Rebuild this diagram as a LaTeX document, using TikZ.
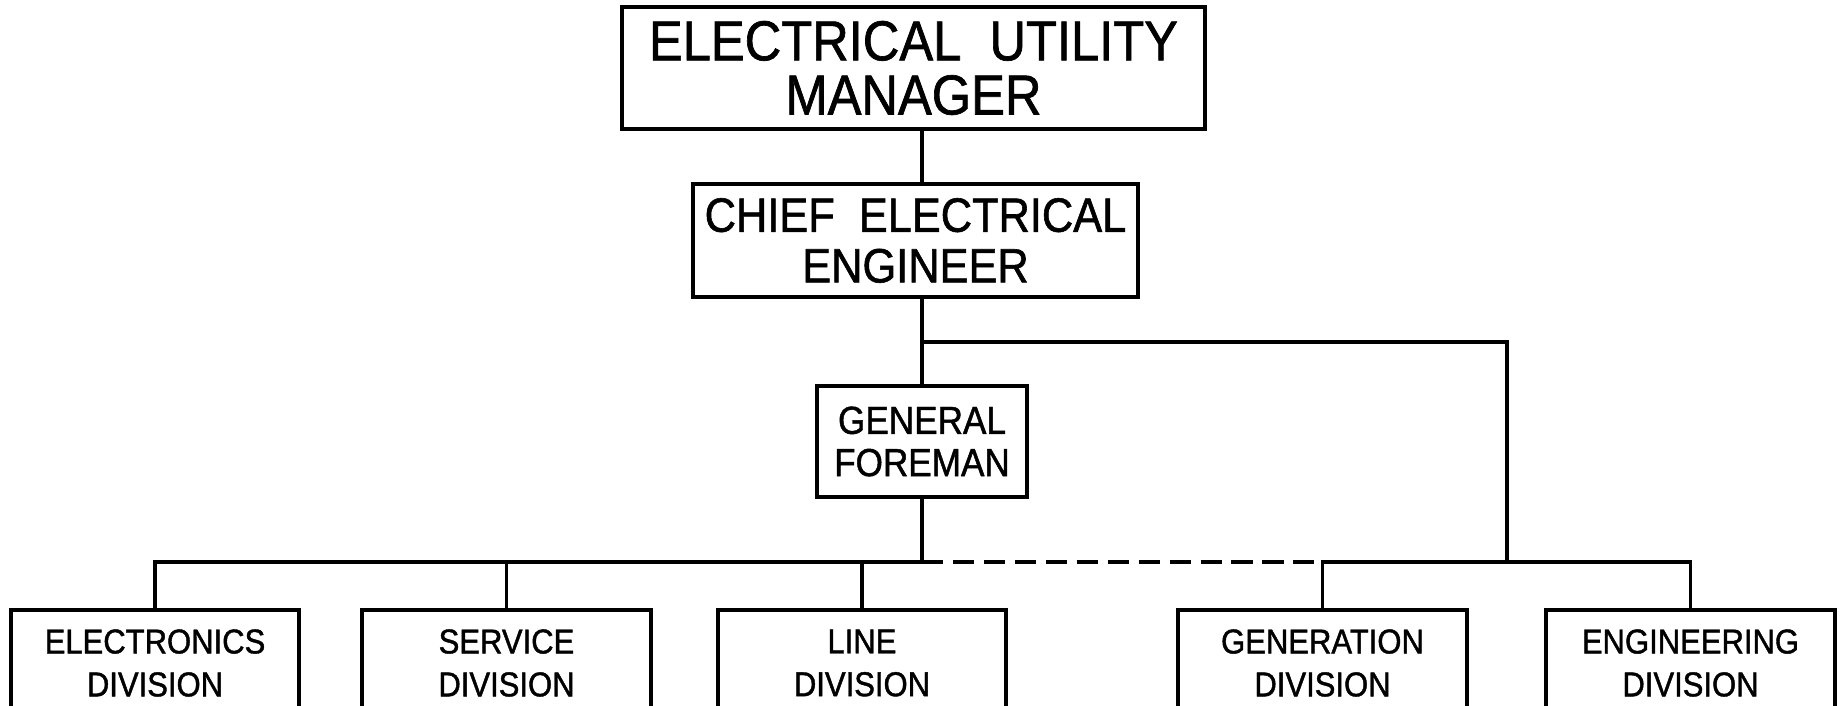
\documentclass[tikz,border=0pt]{standalone}
\usepackage{fontspec}
\setmainfont{Liberation Sans}[FakeStretch=0.9,FakeBold=1.2]

\begin{document}
\begin{tikzpicture}[x=0.01cm,y=-0.01cm,
  orgbox/.style={draw,line width=1.1pt,inner sep=0pt,align=center},
  divbox/.style={orgbox,minimum width=2.88cm,minimum height=1.06cm,
    font={\fontsize{9.8}{12.2}\selectfont}},
  link/.style={line width=0.9pt}]
\useasboundingbox (0,0) rectangle (1841,705);
\clip (0,0) rectangle (1841,705);
\node[orgbox,minimum width=5.83cm,minimum height=1.22cm,
      font={\fontsize{16}{15.4}\selectfont}](manager)
  at(913.5,68){ELECTRICAL\ \ UTILITY\\MANAGER};
\node[orgbox,minimum width=4.45cm,minimum height=1.13cm,
      font={\fontsize{13.7}{14.4}\selectfont}](chief)
  at(915.5,240.5){CHIEF\ \ ELECTRICAL\\ENGINEER};
\node[orgbox,minimum width=2.10cm,minimum height=1.11cm,
      font={\fontsize{11.1}{12}\selectfont}](foreman)
  at(922,441.5){GENERAL\\FOREMAN};
\node[divbox](electronics) at(155,663){ELECTRONICS\\DIVISION};
\node[divbox](service) at(506.5,663){SERVICE\\DIVISION};
\node[divbox](line) at(862,663){LINE\\DIVISION};
\node[divbox](generation) at(1322.5,663){GENERATION\\DIVISION};
\node[divbox](engineering) at(1690.5,663){ENGINEERING\\DIVISION};
\coordinate (fork) at(922,342);
\coordinate (lbus) at(922,562);
\coordinate (rbus) at(1507,562);
\draw[link] (manager.south -| foreman) -- (chief.north -| foreman);
\draw[link] (chief.south -| foreman) -- (foreman.north);
\draw[link] (foreman.south) -- (lbus);
\draw[link] (electronics.north) |- (lbus);
\draw[link] (service.north) -- (service.north |- lbus);
\draw[link] (line.north) -- (line.north |- lbus);
\draw[link,dash pattern=on 6pt off 2.8pt] (lbus) -- (generation.north |- lbus);
\draw[link] (fork) -| (rbus);
\draw[link] (generation.north) |- (rbus) -| (engineering.north);
\end{tikzpicture}
\end{document}
